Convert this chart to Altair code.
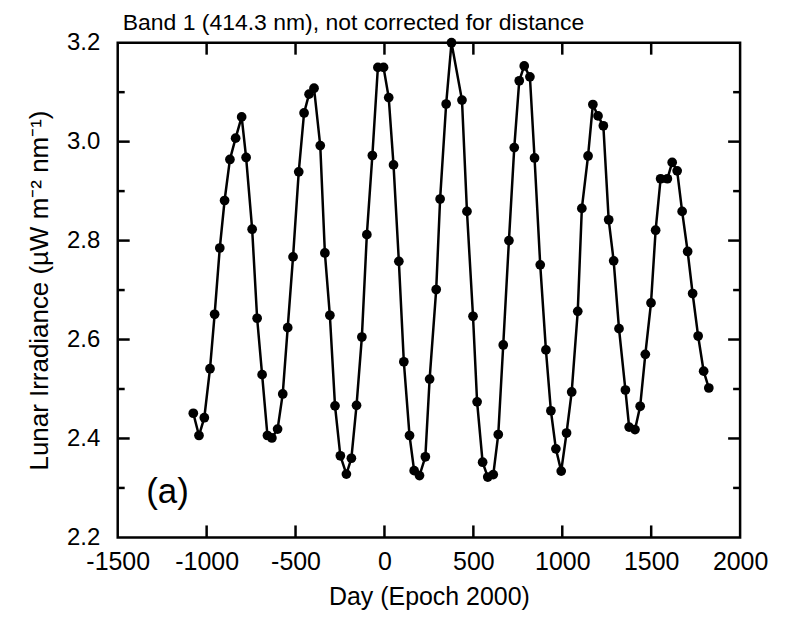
import altair as alt
import pandas as pd

# ---- data ----
days = [-1075, -1043, -1013, -981, -955, -926, -899, -869, -837, -803,
        -778, -744, -716, -688, -658, -633, -601, -572, -544, -514,
        -482, -452, -424, -396, -361, -335, -307, -278, -248, -214,
        -186, -157, -127, -99, -68, -37, -5, 24, 51, 81,
        109, 141, 167, 197, 230, 254, 291, 313, 347, 377,
        436, 464, 498, 521, 552, 581, 612, 640, 668, 700,
        730, 758, 786, 818, 844, 876, 908, 936, 964, 994,
        1024, 1053, 1087, 1110, 1145, 1172, 1201, 1231, 1261, 1289,
        1319, 1355, 1376, 1409, 1438, 1467, 1499, 1525, 1553, 1591,
        1618, 1646, 1674, 1705, 1733, 1764, 1795, 1824]
irradiance = [2.451, 2.406, 2.442, 2.541, 2.651, 2.785, 2.881, 2.964, 3.007, 3.050,
              2.968, 2.823, 2.643, 2.529, 2.406, 2.401, 2.419, 2.490, 2.624, 2.767,
              2.939, 3.058, 3.096, 3.108, 2.992, 2.775, 2.649, 2.466, 2.365, 2.328,
              2.360, 2.467, 2.605, 2.812, 2.972, 3.150, 3.150, 3.089, 2.953, 2.758,
              2.555, 2.406, 2.335, 2.325, 2.363, 2.520, 2.701, 2.884, 3.076, 3.200,
              3.084, 2.859, 2.647, 2.474, 2.352, 2.322, 2.327, 2.408, 2.589, 2.800,
              2.988, 3.123, 3.153, 3.131, 2.967, 2.751, 2.579, 2.456, 2.379, 2.334,
              2.411, 2.494, 2.657, 2.865, 2.971, 3.075, 3.052, 3.032, 2.842, 2.759,
              2.622, 2.498, 2.423, 2.418, 2.465, 2.570, 2.674, 2.821, 2.925, 2.925,
              2.958, 2.941, 2.859, 2.778, 2.693, 2.607, 2.536, 2.502]

x_tick_values = [-1500, -1000, -500, 0, 500, 1000, 1500, 2000]
y_tick_values = [2.2, 2.4, 2.6, 2.8, 3.0, 3.2]
x_inner_ticks = [-1000, -500, 0, 500, 1000, 1500]
y_major_inner = [2.4, 2.6, 2.8, 3.0]
y_minor_inner = [2.3, 2.5, 2.7, 2.9, 3.1]

panel_label = ["(a)"]
panel_label_day = [-1220]
panel_label_val = [2.292]

title_text = ["Band 1 (414.3 nm), not corrected for distance"]
x_title = "Day (Epoch 2000)"
y_title = "Lunar Irradiance (\u00b5W m\u207b\u00b2 nm\u207b\u00b9)"

W, H = 624, 496
FONT = "Liberation Sans"

df = pd.DataFrame({"day": days, "irr": irradiance, "i": range(len(days))})
xt = pd.DataFrame({"day": x_inner_ticks})
ymaj = pd.DataFrame({"irr": y_major_inner})
ymin = pd.DataFrame({"irr": y_minor_inner})
lab = pd.DataFrame({"t": panel_label, "day": panel_label_day, "irr": panel_label_val})
ttl = pd.DataFrame({"t": title_text})

xscale = alt.Scale(domain=[-1500, 2000], nice=False, zero=False)
yscale = alt.Scale(domain=[2.2, 3.2], nice=False, zero=False)

x_axis = alt.Axis(values=x_tick_values, format="d", title=x_title,
                  labelExpr="replace(datum.label, '\u2212', '-')",
                  labelFontSize=25, titleFontSize=25, labelPadding=12,
                  titlePadding=10, labelFlush=False, labelOverlap=False)
y_axis = alt.Axis(values=y_tick_values, format=".1f", title=y_title,
                  labelFontSize=24, titleFontSize=26, labelPadding=18,
                  titlePadding=14, labelOverlap=False)

X = alt.X("day:Q", scale=xscale, axis=x_axis)
Y = alt.Y("irr:Q", scale=yscale, axis=y_axis)

line = alt.Chart(df).mark_line(color="black", strokeWidth=2.5).encode(
    x=X, y=Y, order="i:Q",
)
pts = alt.Chart(df).mark_point(filled=True, shape="circle", size=95,
                               color="black", opacity=1).encode(x=X, y=Y)

def xticks(y0, y1):
    return alt.Chart(xt).mark_rule(color="black", strokeWidth=2.5).encode(
        x=X, y=alt.value(y0), y2=alt.value(y1))

def yticks(data, x0, x1):
    return alt.Chart(data).mark_rule(color="black", strokeWidth=2.5).encode(
        y=Y, x=alt.value(x0), x2=alt.value(x1))

ticks = [
    xticks(H, H - 12), xticks(0, 12),
    yticks(ymaj, 0, 12), yticks(ymaj, W, W - 12),
    yticks(ymin, 0, 7), yticks(ymin, W, W - 7),
]

label = alt.Chart(lab).mark_text(font=FONT, fontSize=35, color="black",
                                 align="center", baseline="middle").encode(
    x=X, y=Y, text="t:N",
)

title = alt.Chart(ttl).mark_text(font=FONT, fontSize=23, color="black",
                                 align="left", baseline="alphabetic").encode(
    x=alt.value(5), y=alt.value(-13), text="t:N",
)

chart = alt.layer(line, pts, *ticks, label, title).properties(
    width=W, height=H,
    autosize=alt.AutoSizeParams(type="none"),
    padding={"left": 110, "top": 34, "right": 40, "bottom": 75},
).configure_view(
    stroke="black", strokeWidth=2.5
).configure_axis(
    grid=False, domain=False, ticks=False, tickSize=0,
    labelFont=FONT, titleFont=FONT, labelColor="black", titleColor="black",
    titleFontWeight="normal",
)

chart.save("out.html", embed_options={"renderer": "svg", "actions": False})
